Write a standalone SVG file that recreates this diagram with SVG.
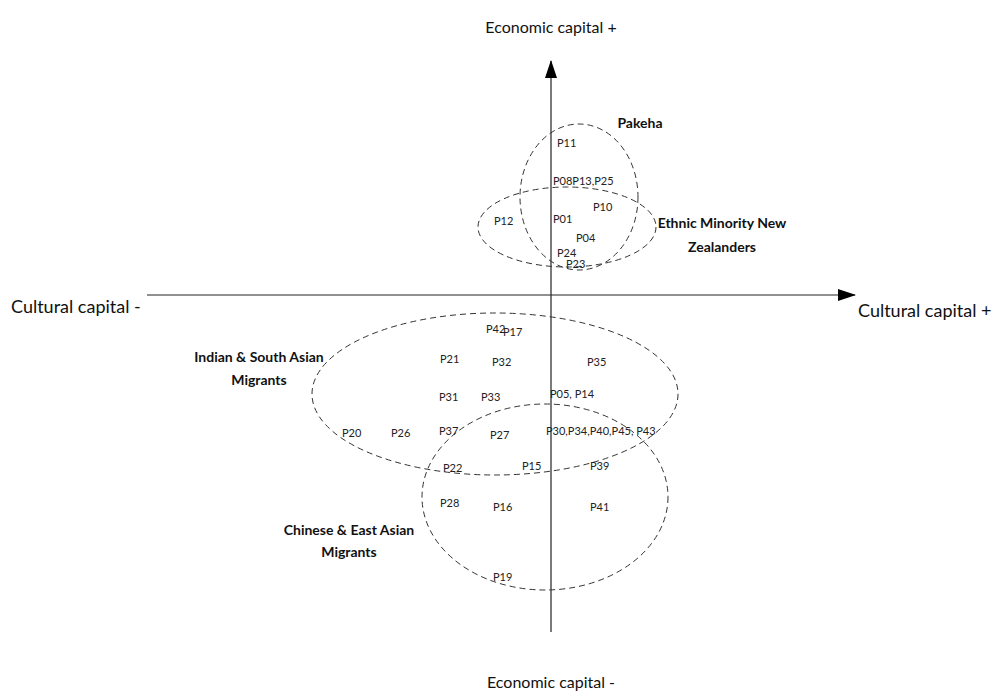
<svg xmlns="http://www.w3.org/2000/svg" width="992" height="693" viewBox="0 0 992 693">
<style>
.ax{font-family:Lato,"Open Sans",sans-serif;font-size:16px;fill:#111}
.axl{font-family:Lato,"Open Sans",sans-serif;font-size:18px;fill:#111}
.grp{font-family:Lato,"Open Sans",sans-serif;font-size:14px;font-weight:bold;fill:#111;text-anchor:middle}
.p{font-family:Lato,"Open Sans",sans-serif;font-size:11px;fill:#222;dominant-baseline:central}
.el{fill:none;stroke:#333;stroke-width:1;stroke-dasharray:6 4}
.axis{stroke:#222;stroke-width:1.2;fill:none}
</style>
<defs>
<marker id="arrL" viewBox="0 0 18 12" refX="17" refY="6" markerWidth="18" markerHeight="12" markerUnits="userSpaceOnUse" orient="auto">
<path d="M0,0 L18,6 L0,12 Z" fill="#000"/>
</marker>
</defs>
<rect width="992" height="693" fill="#fff"/>
<g id="connectors">
<line class="axis" x1="551" y1="632" x2="551" y2="61" marker-end="url(#arrL)"/>
<line class="axis" x1="147" y1="295" x2="855" y2="295" marker-end="url(#arrL)"/>
</g>
<g id="axis-labels">
<text class="ax" x="551" y="33" text-anchor="middle">Economic capital +</text>
<text class="ax" x="551" y="688" text-anchor="middle">Economic capital -</text>
<text class="axl" x="11" y="313">Cultural capital -</text>
<text class="axl" x="858" y="317">Cultural capital +</text>
</g>
<g id="pakeha">
<ellipse class="el" cx="579" cy="197" rx="59" ry="73"/>
<text class="grp" x="640" y="128">Pakeha</text>
</g>
<g id="ethnic-minority">
<ellipse class="el" cx="567" cy="227" rx="89" ry="40"/>
<text class="grp" x="722" y="228">Ethnic Minority New</text>
<text class="grp" x="722" y="252">Zealanders</text>
</g>
<g id="indian">
<ellipse class="el" cx="495" cy="394" rx="183" ry="81"/>
<text class="grp" x="259" y="362">Indian &amp; South Asian</text>
<text class="grp" x="259" y="385">Migrants</text>
</g>
<g id="chinese">
<ellipse class="el" cx="545" cy="497" rx="123" ry="93"/>
<text class="grp" x="349" y="535">Chinese &amp; East Asian</text>
<text class="grp" x="349" y="557">Migrants</text>
</g>
<g id="points">
<text class="p" x="557" y="142">P11</text>
<text class="p" x="553" y="180">P08P13,P25</text>
<text class="p" x="593" y="206">P10</text>
<text class="p" x="494" y="220">P12</text>
<text class="p" x="553" y="218">P01</text>
<text class="p" x="576" y="237">P04</text>
<text class="p" x="557" y="252">P24</text>
<text class="p" x="566" y="263">P23</text>
<text class="p" x="486" y="328">P42</text>
<text class="p" x="503" y="331">P17</text>
<text class="p" x="440" y="358">P21</text>
<text class="p" x="492" y="361">P32</text>
<text class="p" x="587" y="361">P35</text>
<text class="p" x="439" y="396">P31</text>
<text class="p" x="481" y="396">P33</text>
<text class="p" x="550" y="393">P05, P14</text>
<text class="p" x="342" y="432">P20</text>
<text class="p" x="391" y="432">P26</text>
<text class="p" x="439" y="430">P37</text>
<text class="p" x="490" y="434">P27</text>
<text class="p" x="546" y="430">P30,P34,P40,P45, P43</text>
<text class="p" x="443" y="467">P22</text>
<text class="p" x="522" y="465">P15</text>
<text class="p" x="590" y="465">P39</text>
<text class="p" x="440" y="502">P28</text>
<text class="p" x="493" y="506">P16</text>
<text class="p" x="590" y="506">P41</text>
<text class="p" x="493" y="576">P19</text>
</g>
</svg>
